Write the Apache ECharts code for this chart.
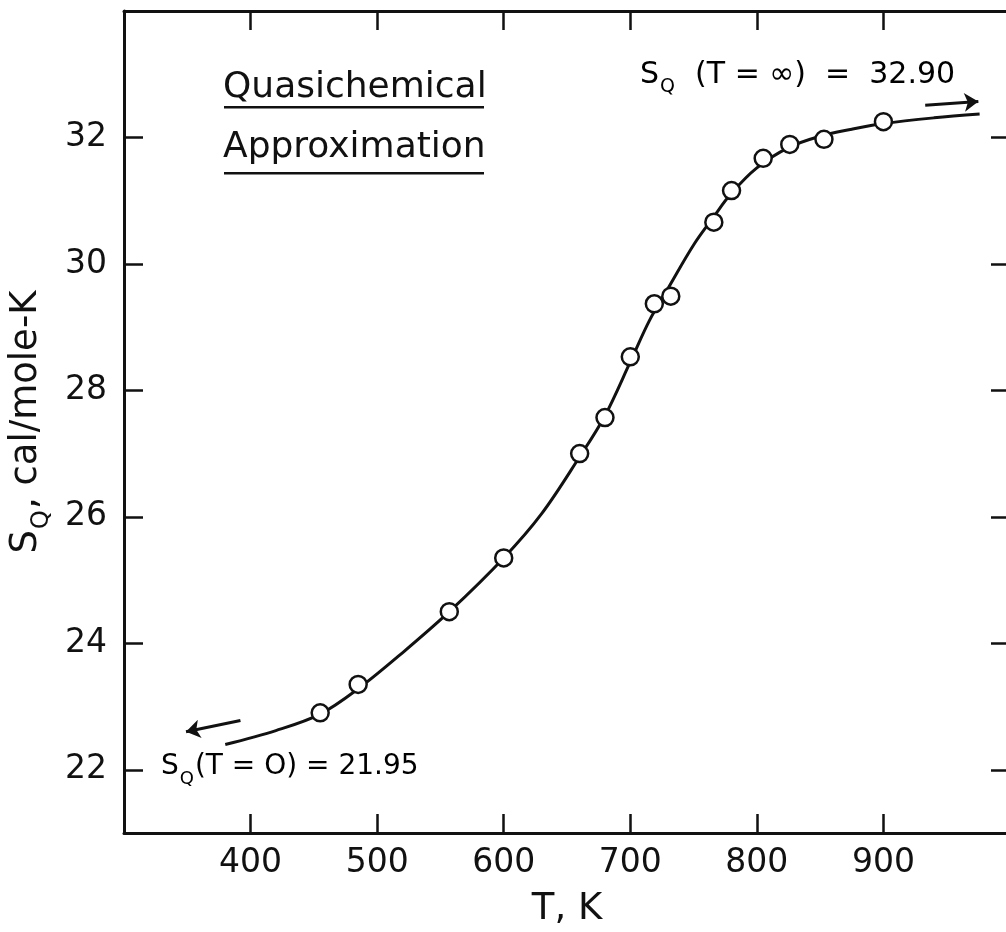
<!DOCTYPE html>
<html>
<head>
<meta charset="utf-8">
<script src="https://cdn.jsdelivr.net/npm/echarts@6/dist/echarts.min.js"></script>
<style>
  html, body { margin: 0; padding: 0; background: #fff; }
  #chart { width: 1006px; height: 932px; }
</style>
</head>
<body>
<div id="chart"></div>
<script>
// ---- data ----
const xTicks = [400, 500, 600, 700, 800, 900];
const yTicks = [22, 24, 26, 28, 30, 32];

const pointT = [455, 485, 557, 600, 660, 680, 700, 719, 732, 766, 780, 805, 826, 853, 900];
const pointS = [22.90, 23.35, 24.50, 25.35, 27.00, 27.57, 28.53, 29.37, 29.49, 30.66, 31.16, 31.67, 31.89, 31.97, 32.25];

const curveT = [380, 420, 455, 485, 520, 557, 600, 630, 660, 680, 700, 715, 730, 750, 765, 780, 800, 825, 850, 875, 900, 940, 976];
const curveS = [22.40, 22.62, 22.88, 23.28, 23.85, 24.50, 25.35, 26.05, 26.95, 27.60, 28.45, 29.10, 29.62, 30.30, 30.72, 31.12, 31.52, 31.84, 32.02, 32.13, 32.22, 32.31, 32.37];

const arrowLow = [[392, 22.78], [349, 22.60]];
const arrowHigh = [[933, 32.51], [975, 32.57]];

const title1 = 'Quasichemical';
const title2 = 'Approximation';
const noteLow = ['S', 'Q', '(T = O) = 21.95'];
const noteHigh = ['S', 'Q', '  (T = \u221E)  =  32.90'];
const xName = 'T, K';
const yName = ['S', 'Q', ', cal/mole-K'];

// ---- chart ----
const FONT = 'DejaVu Sans';
const INK = '#111';
const chart = echarts.init(document.getElementById('chart'), null, { renderer: 'canvas' });

const pts = pointT.map((t, i) => [t, pointS[i]]);
const curve = curveT.map((t, i) => [t, curveS[i]]);

function subRich(size, subSize, drop) {
  return {
    s: { fontFamily: FONT, fontSize: size, color: INK, verticalAlign: 'bottom', padding: [0, 0, drop, 0] },
    q: { fontFamily: FONT, fontSize: subSize, color: INK, verticalAlign: 'bottom', padding: [0, 1, 0, 1] }
  };
}

const axisCommon = {
  type: 'value',
  axisLine: { show: true, onZero: false, lineStyle: { color: INK, width: 3 } },
  axisTick: { show: true, inside: true, length: 19, lineStyle: { color: INK, width: 2.5 } },
  splitLine: { show: false }
};

const option = {
  backgroundColor: '#fff',
  animation: false,
  grid: { left: 124, top: 11, width: 886, height: 822, containLabel: false, outerBoundsMode: 'none' },
  xAxis: [
    Object.assign({}, axisCommon, {
      position: 'bottom', min: 300, max: 1000, interval: 100,
      axisTick: Object.assign({}, axisCommon.axisTick, { customValues: xTicks }),
      axisLabel: { customValues: xTicks, fontFamily: FONT, fontSize: 33, color: INK, margin: 14 },
      name: xName, nameLocation: 'middle', nameGap: 58,
      nameTextStyle: { fontFamily: FONT, fontSize: 37, color: INK }
    }),
    Object.assign({}, axisCommon, {
      position: 'top', min: 300, max: 1000, interval: 100,
      axisTick: Object.assign({}, axisCommon.axisTick, { customValues: xTicks }),
      axisLabel: { show: false }
    })
  ],
  yAxis: [
    Object.assign({}, axisCommon, {
      position: 'left', min: 21, max: 34,
      axisTick: Object.assign({}, axisCommon.axisTick, { customValues: yTicks }),
      axisLabel: { customValues: yTicks, fontFamily: FONT, fontSize: 33, color: INK, margin: 17 },
      name: '{s|' + yName[0] + '}{q|' + yName[1] + '}{s|' + yName[2] + '}',
      nameLocation: 'middle', nameRotate: 90, nameGap: 62,
      nameTextStyle: { rich: subRich(37, 24, 9), padding: [0, 0, 0, 0] }
    }),
    Object.assign({}, axisCommon, {
      position: 'right', min: 21, max: 34,
      axisTick: Object.assign({}, axisCommon.axisTick, { customValues: yTicks }),
      axisLabel: { show: false }
    })
  ],
  series: [
    {
      type: 'line', data: curve, smooth: 0.35, showSymbol: false, symbol: 'none',
      lineStyle: { color: INK, width: 3 }, z: 2, silent: true
    },
    {
      type: 'scatter', data: pts, symbol: 'circle', symbolSize: 17,
      itemStyle: { color: '#fff', borderColor: INK, borderWidth: 2.5, opacity: 1 }, z: 3
    },
    {
      type: 'lines', coordinateSystem: 'cartesian2d',
      symbol: ['none', 'arrow'], symbolSize: [0, 14],
      lineStyle: { color: INK, width: 3, opacity: 1 },
      data: [ { coords: arrowLow }, { coords: arrowHigh } ], z: 3
    }
  ],
  graphic: [
    { type: 'text', left: 223, top: 70, style: { text: title1, fontFamily: FONT, fontSize: 36, fill: INK } },
    { type: 'rect', shape: { x: 224, y: 106, width: 260, height: 2.5 }, style: { fill: INK } },
    { type: 'text', left: 223, top: 130, style: { text: title2, fontFamily: FONT, fontSize: 36, fill: INK } },
    { type: 'rect', shape: { x: 224, y: 172, width: 260, height: 2.5 }, style: { fill: INK } },
    { type: 'text', left: 161, top: 753, style: {
        text: '{s|' + noteLow[0] + '}{q|' + noteLow[1] + '}{s|' + noteLow[2] + '}',
        rich: subRich(28, 18, 7) } },
    { type: 'text', left: 640, top: 60, style: {
        text: '{s|' + noteHigh[0] + '}{q|' + noteHigh[1] + '}{s|' + noteHigh[2] + '}',
        rich: subRich(30, 19, 7) } }
  ]
};
chart.setOption(option);
</script>
</body>
</html>
